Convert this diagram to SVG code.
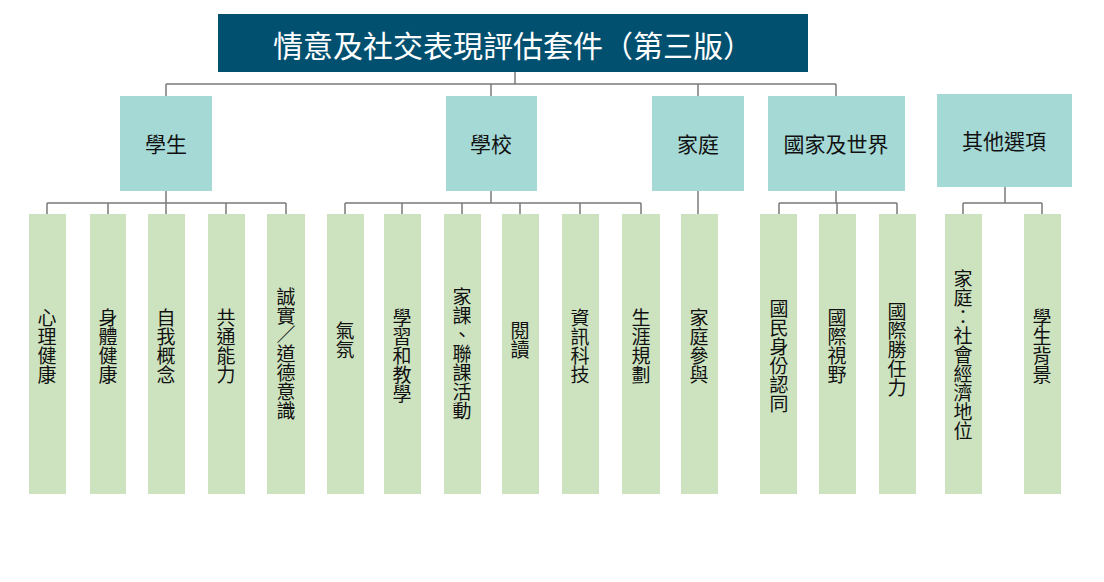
<svg xmlns="http://www.w3.org/2000/svg" width="1104" height="582" viewBox="0 0 1104 582">
<style>
.t{font-family:"Noto Sans CJK TC","Liberation Sans",sans-serif}
.l2{fill:#a5d9d6}.lf{fill:#cde3c0}
.c{fill:none;stroke:#7a7a7a;stroke-width:1.5}
.h{font-size:21px;fill:#111;text-anchor:middle;dominant-baseline:central}
.v{font-size:19px;fill:#111;writing-mode:vertical-rl;text-anchor:middle}
</style>
<rect width="1104" height="582" fill="#fff"/>
<g id="connectors" class="c">
<path d="M515 72V84M166 84H836M166 84V96M491 84V96M698 84V96M836 84V96"/>
<path d="M166 191V203M47 203H286M47 203V214M108 203V214M166 203V214M226 203V214M286 203V214"/>
<path d="M491 191V203M345 203H641M345 203V214M402 203V214M462 203V214M520 203V214M580 203V214M641 203V214"/>
<path d="M698 191V214"/>
<path d="M836 191V203M779 203H897M779 203V214M837 203V214M897 203V214"/>
<path d="M1005 187V203M963 203H1042M963 203V214M1042 203V214"/>
</g>
<g id="title"><rect x="218" y="14" width="590" height="58" fill="#02506f"/><text class="t" x="513" y="44" font-size="30" fill="#fff" text-anchor="middle" dominant-baseline="central">情意及社交表現評估套件（第三版）</text></g>
<g id="n-student"><rect class="l2" x="120" y="96" width="92" height="95"/><text class="t h" x="166" y="143">學生</text></g>
<g id="n-school"><rect class="l2" x="446" y="96" width="91" height="95"/><text class="t h" x="491" y="143">學校</text></g>
<g id="n-family"><rect class="l2" x="652" y="96" width="92" height="95"/><text class="t h" x="698" y="143">家庭</text></g>
<g id="n-nation"><rect class="l2" x="768" y="96" width="137" height="95"/><text class="t h" x="836" y="143">國家及世界</text></g>
<g id="n-other"><rect class="l2" x="937" y="94" width="135" height="93"/><text class="t h" x="1004" y="140">其他選項</text></g>
<g id="leaf1"><rect class="lf" x="29" y="214" width="37" height="280"/><text class="t v" x="47" y="346">心理健康</text></g>
<g id="leaf2"><rect class="lf" x="90" y="214" width="36" height="280"/><text class="t v" x="108" y="346">身體健康</text></g>
<g id="leaf3"><rect class="lf" x="148" y="214" width="37" height="280"/><text class="t v" x="166" y="346">自我概念</text></g>
<g id="leaf4"><rect class="lf" x="208" y="214" width="37" height="280"/><text class="t v" x="226" y="346">共通能力</text></g>
<g id="leaf5"><rect class="lf" x="267" y="214" width="38" height="280"/><text class="t v" x="286" y="354">誠實／道德意識</text></g>
<g id="leaf6"><rect class="lf" x="327" y="214" width="37" height="280"/><text class="t v" x="345" y="340">氣氛</text></g>
<g id="leaf7"><rect class="lf" x="384" y="214" width="37" height="280"/><text class="t v" x="402" y="356">學習和教學</text></g>
<g id="leaf8"><rect class="lf" x="444" y="214" width="37" height="280"/><text class="t v" x="462" y="354">家課、聯課活動</text></g>
<g id="leaf9"><rect class="lf" x="502" y="214" width="37" height="280"/><text class="t v" x="520" y="340">閱讀</text></g>
<g id="leaf10"><rect class="lf" x="562" y="214" width="37" height="280"/><text class="t v" x="580" y="346">資訊科技</text></g>
<g id="leaf11"><rect class="lf" x="622" y="214" width="38" height="280"/><text class="t v" x="641" y="346">生涯規劃</text></g>
<g id="leaf12"><rect class="lf" x="681" y="214" width="37" height="280"/><text class="t v" x="699" y="346">家庭參與</text></g>
<g id="leaf13"><rect class="lf" x="760" y="214" width="37" height="280"/><text class="t v" x="779" y="356">國民身份認同</text></g>
<g id="leaf14"><rect class="lf" x="819" y="214" width="37" height="280"/><text class="t v" x="837" y="346">國際視野</text></g>
<g id="leaf15"><rect class="lf" x="879" y="214" width="37" height="280"/><text class="t v" x="897" y="350">國際勝任力</text></g>
<g id="leaf16"><rect class="lf" x="945" y="214" width="37" height="280"/><text class="t v" x="963" y="355">家庭：社會經濟地位</text></g>
<g id="leaf17"><rect class="lf" x="1024" y="214" width="37" height="280"/><text class="t v" x="1042" y="346">學生背景</text></g>
</svg>
